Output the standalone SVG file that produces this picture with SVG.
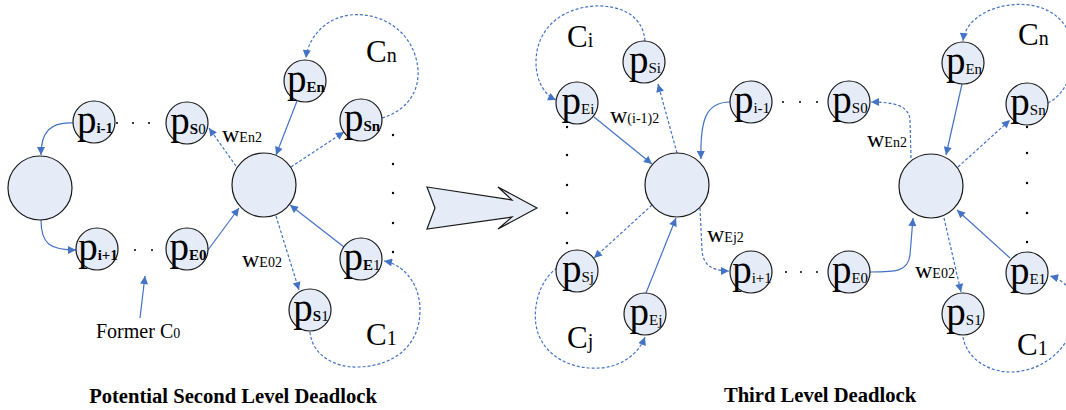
<svg xmlns="http://www.w3.org/2000/svg" width="1066" height="410" viewBox="0 0 1066 410">
<style>
.nd{fill:#E6ECF7;stroke:#1a1a1a;stroke-width:1.2}
.c{fill:none;stroke:#4472C4;stroke-width:1.2}
.d{stroke-dasharray:3 2}
.t{font-family:"Liberation Serif","Times New Roman",serif;fill:#000}
.p{font-size:39px}
.sb{font-size:15px;font-weight:bold}
.sn{font-size:15px}
.w{font-size:24px}
.ws{font-size:14px}
.C{font-size:31px}
.Cs{font-size:20px}
.dot{fill:#000}
.ttl{font-size:20.6px;font-weight:bold}
</style>
<defs>
<marker id="ah" viewBox="0 0 10 10" refX="10" refY="5" markerWidth="9" markerHeight="8" markerUnits="userSpaceOnUse" orient="auto">
<path d="M0,0 L10,5 L0,10 z" fill="#4472C4"/>
</marker>
</defs>
<rect width="1066" height="410" fill="#fff"/>

<g id="connectors">
<path class="c" d="M73,123 C50,122 41,132 41,155" marker-end="url(#ah)"/>
<path class="c" d="M41,220 C41,244 50,250 76,250" marker-end="url(#ah)"/>
<path class="c" d="M297,101 L276,155" marker-end="url(#ah)"/>
<path class="c d" d="M291,167 L344,132" marker-end="url(#ah)"/>
<path class="c d" d="M236,166 L209,128" marker-end="url(#ah)"/>
<path class="c" d="M208,250 L239,208" marker-end="url(#ah)"/>
<path class="c" d="M344,247 L290,205" marker-end="url(#ah)"/>
<path class="c d" d="M276,216 L299,290" marker-end="url(#ah)"/>
<path class="c d" d="M382,118 C410,110 425,85 415,55 C405,25 375,12 350,15 C325,18 308,38 306,58" marker-end="url(#ah)"/>
<path class="c d" d="M310,332 C312,355 335,368 358,367 C395,366 420,345 420,310 C420,285 405,265 384,261" marker-end="url(#ah)"/>
<path class="c" d="M140,318 L145,276" marker-end="url(#ah)"/>
<path class="c" d="M594,117 L652,164" marker-end="url(#ah)"/>
<path class="c d" d="M677,153 L658,84" marker-end="url(#ah)"/>
<path class="c d" d="M645,41 C643,15 620,5 595,6 C560,8 536,30 536,62 C536,82 545,95 556,100" marker-end="url(#ah)"/>
<path class="c" d="M730,102 C706,102 700,120 701,159" marker-end="url(#ah)"/>
<path class="c d" d="M700,208 L702,250 C703,265 712,271 729,271" marker-end="url(#ah)"/>
<path class="c d" d="M652,205 L594,258" marker-end="url(#ah)"/>
<path class="c" d="M646,293 L676,218" marker-end="url(#ah)"/>
<path class="c d" d="M557,268 C540,280 533,305 536,325 C541,355 570,370 600,368 C620,367 638,355 645,337" marker-end="url(#ah)"/>
<path class="c" d="M962,84 L946,155" marker-end="url(#ah)"/>
<path class="c d" d="M958,167 L1010,120" marker-end="url(#ah)"/>
<path class="c d" d="M911,158 L910,120 C909,106 895,102 871,102" marker-end="url(#ah)"/>
<path class="c" d="M870,272 C895,272 908,272 910,255 L913,218" marker-end="url(#ah)"/>
<path class="c" d="M1010,258 L957,210" marker-end="url(#ah)"/>
<path class="c d" d="M944,218 L961,292" marker-end="url(#ah)"/>
<path class="c d" d="M1048,103 C1070,92 1078,60 1070,35 C1060,10 1035,2 1010,5 C985,8 965,22 963,41" marker-end="url(#ah)"/>
<path class="c d" d="M963,337 C967,360 990,372 1010,372 C1045,372 1075,345 1075,310 C1075,292 1065,280 1050,276" marker-end="url(#ah)"/>
</g>

<g id="L-c0"><circle class="nd" cx="40" cy="188" r="32"/></g>
<g id="L-pim1"><circle class="nd" cx="94" cy="122" r="21"/><text class="t" x="95" y="133" text-anchor="middle"><tspan class="p">p</tspan><tspan class="sb">i-1</tspan></text></g>
<g id="L-pS0"><circle class="nd" cx="187" cy="123" r="21"/><text class="t" x="188" y="134" text-anchor="middle"><tspan class="p">p</tspan><tspan class="sb">S</tspan><tspan class="sn">0</tspan></text></g>
<g id="L-pip1"><circle class="nd" cx="97" cy="249" r="21"/><text class="t" x="98" y="260" text-anchor="middle"><tspan class="p">p</tspan><tspan class="sb">i+1</tspan></text></g>
<g id="L-pE0"><circle class="nd" cx="187" cy="249" r="21"/><text class="t" x="188" y="260" text-anchor="middle"><tspan class="p">p</tspan><tspan class="sb">E0</tspan></text></g>
<g id="L-center"><circle class="nd" cx="264" cy="185" r="32"/></g>
<g id="L-pEn"><circle class="nd" cx="305" cy="81" r="21"/><text class="t" x="306" y="92" text-anchor="middle"><tspan class="p">p</tspan><tspan class="sb">En</tspan></text></g>
<g id="L-pSn"><circle class="nd" cx="361" cy="120" r="21"/><text class="t" x="362" y="131" text-anchor="middle"><tspan class="p">p</tspan><tspan class="sb">Sn</tspan></text></g>
<g id="L-pE1"><circle class="nd" cx="361" cy="259" r="21"/><text class="t" x="362" y="270" text-anchor="middle"><tspan class="p">p</tspan><tspan class="sb">E</tspan><tspan class="sn">1</tspan></text></g>
<g id="L-pS1"><circle class="nd" cx="310" cy="310" r="21"/><text class="t" x="311" y="321" text-anchor="middle"><tspan class="p">p</tspan><tspan class="sb">S</tspan><tspan class="sn">1</tspan></text></g>

<g id="L-labels">
<text class="t" x="222" y="142"><tspan class="w">w</tspan><tspan class="ws">En2</tspan></text>
<text class="t" x="242" y="267"><tspan class="w">w</tspan><tspan class="ws">E02</tspan></text>
<text class="t" x="366" y="62"><tspan class="C">C</tspan><tspan class="Cs">n</tspan></text>
<text class="t" x="366" y="345"><tspan class="C">C</tspan><tspan class="Cs">1</tspan></text>
<text class="t" x="96" y="338"><tspan style="font-size:20px">Former C</tspan><tspan style="font-size:14px">0</tspan></text>
<g class="dot">
<circle cx="117" cy="123" r="1"/><circle cx="133" cy="123" r="1"/><circle cx="149" cy="123" r="1"/>
<circle cx="135" cy="250" r="1"/><circle cx="152" cy="250" r="1"/>
<circle cx="393" cy="135" r="1.2"/><circle cx="393" cy="164" r="1.2"/><circle cx="393" cy="193" r="1.2"/><circle cx="393" cy="223" r="1.2"/><circle cx="393" cy="252" r="1.2"/>
</g>
<text class="t ttl" x="233" y="403" text-anchor="middle">Potential Second Level Deadlock</text>
</g>

<g id="big-arrow"><polygon points="427,187 512,200 498,187 537,208 498,229 512,217 427,229 435,208" fill="#E6ECF7" stroke="#1a1a1a" stroke-width="1.2"/></g>

<g id="R-A"><circle class="nd" cx="677" cy="185" r="32"/></g>
<g id="R-pSi"><circle class="nd" cx="644" cy="62" r="21"/><text class="t" x="645" y="73" text-anchor="middle"><tspan class="p">p</tspan><tspan class="sn">Si</tspan></text></g>
<g id="R-pEi"><circle class="nd" cx="577" cy="103" r="21"/><text class="t" x="578" y="114" text-anchor="middle"><tspan class="p">p</tspan><tspan class="sn">Ei</tspan></text></g>
<g id="R-pSj"><circle class="nd" cx="577" cy="271" r="21"/><text class="t" x="578" y="282" text-anchor="middle"><tspan class="p">p</tspan><tspan class="sn">Sj</tspan></text></g>
<g id="R-pEj"><circle class="nd" cx="645" cy="314" r="21"/><text class="t" x="646" y="325" text-anchor="middle"><tspan class="p">p</tspan><tspan class="sn">Ej</tspan></text></g>
<g id="R-pim1"><circle class="nd" cx="751" cy="102" r="21"/><text class="t" x="752" y="113" text-anchor="middle"><tspan class="p">p</tspan><tspan class="sn">i-1</tspan></text></g>
<g id="R-pS0"><circle class="nd" cx="849" cy="102" r="21"/><text class="t" x="850" y="113" text-anchor="middle"><tspan class="p">p</tspan><tspan class="sn">S0</tspan></text></g>
<g id="R-pip1"><circle class="nd" cx="751" cy="272" r="21"/><text class="t" x="752" y="283" text-anchor="middle"><tspan class="p">p</tspan><tspan class="sn">i+1</tspan></text></g>
<g id="R-pE0"><circle class="nd" cx="849" cy="272" r="21"/><text class="t" x="850" y="283" text-anchor="middle"><tspan class="p">p</tspan><tspan class="sn">E0</tspan></text></g>
<g id="R-B"><circle class="nd" cx="931" cy="186" r="32"/></g>
<g id="R-pEn"><circle class="nd" cx="963" cy="63" r="21"/><text class="t" x="964" y="74" text-anchor="middle"><tspan class="p">p</tspan><tspan class="sn">En</tspan></text></g>
<g id="R-pSn"><circle class="nd" cx="1027" cy="104" r="21"/><text class="t" x="1028" y="115" text-anchor="middle"><tspan class="p">p</tspan><tspan class="sn">Sn</tspan></text></g>
<g id="R-pE1"><circle class="nd" cx="1027" cy="273" r="21"/><text class="t" x="1028" y="284" text-anchor="middle"><tspan class="p">p</tspan><tspan class="sn">E1</tspan></text></g>
<g id="R-pS1"><circle class="nd" cx="963" cy="314" r="21"/><text class="t" x="964" y="325" text-anchor="middle"><tspan class="p">p</tspan><tspan class="sn">S1</tspan></text></g>

<g id="R-labels">
<text class="t" x="610" y="123"><tspan class="w">w</tspan><tspan class="ws">(i-1)2</tspan></text>
<text class="t" x="707" y="242"><tspan class="w">w</tspan><tspan class="ws">Ej2</tspan></text>
<text class="t" x="867" y="147"><tspan class="w">w</tspan><tspan class="ws">En2</tspan></text>
<text class="t" x="915" y="278"><tspan class="w">w</tspan><tspan class="ws">E02</tspan></text>
<text class="t" x="567" y="47"><tspan class="C">C</tspan><tspan class="Cs">i</tspan></text>
<text class="t" x="567" y="348"><tspan class="C">C</tspan><tspan class="Cs">j</tspan></text>
<text class="t" x="1018" y="45"><tspan class="C">C</tspan><tspan class="Cs">n</tspan></text>
<text class="t" x="1017" y="355"><tspan class="C">C</tspan><tspan class="Cs">1</tspan></text>
<g class="dot">
<circle cx="567" cy="127" r="1.2"/><circle cx="567" cy="155" r="1.2"/><circle cx="567" cy="185" r="1.2"/><circle cx="567" cy="213" r="1.2"/><circle cx="567" cy="243" r="1.2"/>
<circle cx="783" cy="102" r="1"/><circle cx="800" cy="102" r="1"/><circle cx="817" cy="102" r="1"/>
<circle cx="786" cy="272" r="1"/><circle cx="801" cy="272" r="1"/><circle cx="817" cy="272" r="1"/>
<circle cx="1027" cy="127" r="1.2"/><circle cx="1027" cy="153" r="1.2"/><circle cx="1027" cy="183" r="1.2"/><circle cx="1027" cy="213" r="1.2"/><circle cx="1027" cy="242" r="1.2"/>
</g>
<text class="t ttl" x="820" y="402" text-anchor="middle">Third Level Deadlock</text>
</g>
</svg>
